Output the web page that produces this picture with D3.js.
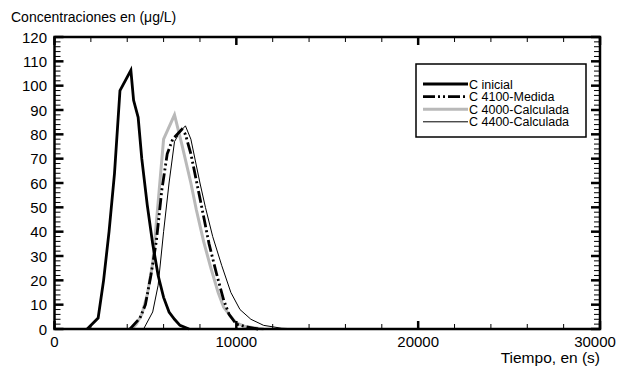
<!DOCTYPE html>
<html>
<head>
<meta charset="utf-8">
<script src="https://cdn.jsdelivr.net/npm/d3@7"></script>
<style>
  html, body { margin: 0; padding: 0; background: #fff; }
  svg { display: block; font-family: "Liberation Sans", Arial, sans-serif; }
</style>
</head>
<body>
<svg id="chart" width="626" height="369"></svg>
<script>
// tiempo (s) / concentracion (ug/L)
const inicialT = [1800, 2400, 2700, 3000, 3300, 3600, 4200, 4350, 4600, 4800, 5100, 5400, 5700, 6000, 6300, 6600, 6900, 7400];
const inicialC = [0, 4.5, 20, 40, 64, 98, 106.3, 94, 87, 70, 51, 35, 22, 13, 7, 4, 1.5, 0];

const medidaT = [4150, 4700, 5000, 5300, 5600, 5900, 6200, 6500, 7000, 7200, 7500, 8100, 8500, 8900, 9300, 9600, 10000, 10500, 11200];
const medidaC = [0, 4.5, 10, 22, 36, 57, 72, 78, 82, 80, 72, 50, 35, 23, 12, 6, 2, 1, 0];

const calc4000T = [4250, 4500, 4800, 5100, 5400, 5700, 6000, 6600, 7000, 7500, 7800, 8200, 8600, 9000, 9300, 9700, 10000, 10500, 11500];
const calc4000C = [0, 2, 6, 14, 27, 52, 78, 88, 76, 60, 49, 36, 25, 15, 9, 5, 2.5, 1, 0];

const calc4400T = [4900, 5400, 5700, 6000, 6300, 6600, 6900, 7200, 7500, 8000, 8300, 8700, 9200, 9700, 10200, 10800, 11500, 12500, 13500];
const calc4400C = [0, 7, 18, 40, 60, 77, 81, 83.5, 78, 60, 50, 38, 26, 15, 8, 4, 1.5, 0.3, 0];

const yTicks = d3.range(0, 121, 10);
const xTicks = [0, 10000, 20000, 30000];

const series = [
  { name: 'C inicial', t: inicialT, c: inicialC, color: '#000', width: 2.8, dash: null },
  { name: 'C 4100-Medida', t: medidaT, c: medidaC, color: '#000', width: 2.8, dash: '12,3,2,3,2,3' },
  { name: 'C 4000-Calculada', t: calc4000T, c: calc4000C, color: '#b9b9b9', width: 3, dash: null },
  { name: 'C 4400-Calculada', t: calc4400T, c: calc4400C, color: '#000', width: 1, dash: null }
];

const svg = d3.select('#chart');
const x = d3.scaleLinear().domain([0, 30000]).range([54.5, 600]);
const y = d3.scaleLinear().domain([0, 120]).range([329, 37]);

const line = d3.line().x((d) => x(d[0])).y((d) => y(d[1]));

// curves
const curves = svg.append('g').attr('fill', 'none').attr('stroke-linejoin', 'miter');
series.slice().reverse().forEach((s) => {
  curves
    .append('path')
    .datum(s.t.map((t, i) => [t, s.c[i]]))
    .attr('d', line)
    .attr('stroke', s.color)
    .attr('stroke-width', s.width)
    .attr('stroke-dasharray', s.dash);
});

// ticks on all four sides, pointing inward
const ticks = svg.append('g').attr('stroke', '#000');
d3.range(0, 121, 2).forEach((v) => {
  const major = v % 10 === 0;
  const len = major ? 9 : 6;
  const w = major ? 2.5 : 1;
  ticks.append('line').attr('x1', x(0)).attr('x2', x(0) + len).attr('y1', y(v)).attr('y2', y(v)).attr('stroke-width', w);
  ticks.append('line').attr('x1', x(30000)).attr('x2', x(30000) - len).attr('y1', y(v)).attr('y2', y(v)).attr('stroke-width', w);
});
d3.range(0, 30001, 2000).forEach((v) => {
  const major = v % 10000 === 0;
  const len = major ? 8 : 5;
  const w = major ? 2.5 : 1;
  ticks.append('line').attr('x1', x(v)).attr('x2', x(v)).attr('y1', y(0)).attr('y2', y(0) - len).attr('stroke-width', w);
  ticks.append('line').attr('x1', x(v)).attr('x2', x(v)).attr('y1', y(120)).attr('y2', y(120) + len).attr('stroke-width', w);
});

// frame
svg.append('rect')
  .attr('x', x(0)).attr('y', y(120))
  .attr('width', x(30000) - x(0)).attr('height', y(0) - y(120))
  .attr('fill', 'none').attr('stroke', '#000').attr('stroke-width', 2.5);

// tick labels
svg.append('g')
  .selectAll('text')
  .data(yTicks)
  .join('text')
  .attr('x', 47)
  .attr('y', (d) => y(d) + 5.5)
  .attr('text-anchor', 'end')
  .attr('font-size', 15)
  .text((d) => d);

svg.append('g')
  .selectAll('text')
  .data(xTicks)
  .join('text')
  .attr('x', (d) => (d === 30000 ? x(d) - 5 : x(d)))
  .attr('y', 347)
  .attr('text-anchor', 'middle')
  .attr('font-size', 15)
  .text((d) => d);

// axis titles
svg.append('text').attr('x', 11).attr('y', 22).attr('font-size', 14).text('Concentraciones en (μg/L)');
svg.append('text').attr('x', 600).attr('y', 363).attr('text-anchor', 'end').attr('font-size', 15.5).text('Tiempo, en (s)');

// legend
const legend = svg.append('g');
legend.append('rect')
  .attr('x', 416).attr('y', 64).attr('width', 170).attr('height', 73)
  .attr('fill', '#fff').attr('stroke', '#000').attr('stroke-width', 1.5);
series.forEach((s, i) => {
  const ly = 84 + i * 12.6;
  legend.append('line')
    .attr('x1', 423).attr('x2', 468).attr('y1', ly).attr('y2', ly)
    .attr('stroke', s.color).attr('stroke-width', s.width).attr('stroke-dasharray', s.dash);
  legend.append('text')
    .attr('x', 469).attr('y', ly + 4.5)
    .attr('font-size', 12.5)
    .text(s.name);
});
</script>
</body>
</html>
